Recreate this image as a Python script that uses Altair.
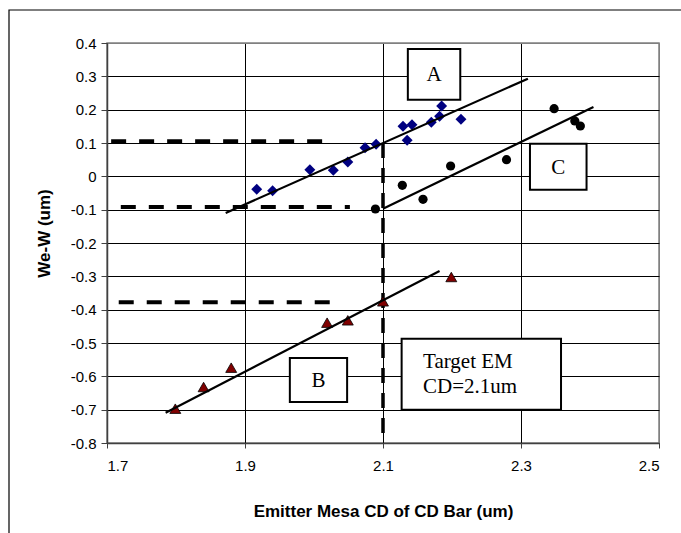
import altair as alt
import pandas as pd

# ---- data ----
a_x = [1.917, 1.940, 1.994, 2.028, 2.049, 2.074, 2.090, 2.129, 2.135, 2.142, 2.170, 2.182, 2.185, 2.213]
a_y = [-0.039, -0.043, 0.020, 0.018, 0.043, 0.086, 0.096, 0.150, 0.108, 0.155, 0.162, 0.180, 0.211, 0.171]

c_x = [2.089, 2.128, 2.158, 2.198, 2.279, 2.348, 2.378, 2.386]
c_y = [-0.098, -0.027, -0.069, 0.031, 0.050, 0.203, 0.166, 0.151]

b_x = [1.799, 1.840, 1.880, 2.019, 2.049, 2.100, 2.199]
b_y = [-0.697, -0.632, -0.574, -0.439, -0.432, -0.375, -0.302]

# trend lines: start/end
trend_name = ["A", "C", "B"]
trend_x1 = [1.872, 2.100, 1.785]
trend_y1 = [-0.110, -0.097, -0.709]
trend_x2 = [2.310, 2.405, 2.182]
trend_y2 = [0.293, 0.208, -0.284]

# horizontal dashed reference lines
hdash_y = [0.105, -0.092, -0.378]
hdash_x1 = [1.706, 1.720, 1.717]
hdash_x2 = [2.012, 2.052, 2.024]

# vertical dashed target line
vdash_x = [2.1]
vdash_y1 = [0.1]
vdash_y2 = [-0.8]

# label boxes
box_label = ["A", "C", "B"]
box_x1 = [2.136, 2.313, 1.965]
box_x2 = [2.212, 2.395, 2.048]
box_y1 = [0.382, 0.098, -0.545]
box_y2 = [0.230, -0.040, -0.677]

target_x1 = [2.127]
target_x2 = [2.358]
target_y1 = [-0.487]
target_y2 = [-0.700]
target_lines = ["Target EM", "CD=2.1um"]
target_text_x = [2.158, 2.158]
target_text_y = [-0.556, -0.631]

x_ticks = [1.7, 1.9, 2.1, 2.3, 2.5]
y_ticks = [-0.8, -0.7, -0.6, -0.5, -0.4, -0.3, -0.2, -0.1, 0.0, 0.1, 0.2, 0.3, 0.4]

x_title = "Emitter Mesa CD of CD Bar (um)"
y_title = "We-W (um)"

# ---- tables ----
pts = pd.concat([
    pd.DataFrame({"x": a_x, "y": a_y, "s": "A"}),
    pd.DataFrame({"x": c_x, "y": c_y, "s": "C"}),
    pd.DataFrame({"x": b_x, "y": b_y, "s": "B"}),
])
trend = pd.DataFrame({"n": trend_name, "x": trend_x1, "y": trend_y1, "x2": trend_x2, "y2": trend_y2})
hdash = pd.DataFrame({"y": hdash_y, "x": hdash_x1, "x2": hdash_x2})
vdash = pd.DataFrame({"x": vdash_x, "y": vdash_y1, "y2": vdash_y2})
boxes = pd.DataFrame({"t": box_label, "x": box_x1, "x2": box_x2, "y": box_y1, "y2": box_y2})
boxes["cx"] = (boxes["x"] + boxes["x2"]) / 2
boxes["cy"] = (boxes["y"] + boxes["y2"]) / 2
tbox = pd.DataFrame({"x": target_x1, "x2": target_x2, "y": target_y1, "y2": target_y2})
ttext = pd.DataFrame({"t": target_lines, "x": target_text_x, "y": target_text_y})

xs = alt.Scale(domain=[1.7, 2.5], nice=False, zero=False)
ys = alt.Scale(domain=[-0.8, 0.4], nice=False, zero=False)

FONT = "Liberation Sans"
SERIF = "Liberation Serif"

xaxis = alt.Axis(
    values=x_ticks, format=".1f", title=x_title,
    grid=True, gridColor=alt.condition("datum.value > 2.45", alt.value("#808080"), alt.value("#000000")),
    gridWidth=1, domainColor="#404040", domainWidth=1.5,
    tickColor="#404040", tickSize=5, labelFont=FONT, labelFontSize=15, labelColor="#000",
    labelPadding=10, titleFont=FONT, titleFontSize=17, titleFontWeight="bold", titleColor="#000",
    titleX=276, titleY=68, titleBaseline="middle", titleAlign="center",
)
yaxis = alt.Axis(
    values=y_ticks, title=y_title,
    labelExpr="abs(datum.value) < 1e-9 ? '0' : (datum.value < 0 ? '-' + format(-datum.value, '.1f') : format(datum.value, '.1f'))",
    grid=True, gridColor=alt.condition("datum.value > 0.35", alt.value("#808080"), alt.value("#000000")),
    gridWidth=1, domainColor="#404040", domainWidth=1.5,
    tickColor="#404040", tickSize=6, labelFont=FONT, labelFontSize=15, labelColor="#000",
    labelPadding=5, titleFont=FONT, titleFontSize=17, titleFontWeight="bold", titleColor="#000",
    titleX=-63, titleY=190, titleBaseline="middle", titleAlign="center", titleAngle=270,
)


def X(f):
    return alt.X(f, scale=xs, axis=xaxis)


def Y(f):
    return alt.Y(f, scale=ys, axis=yaxis)


# outer frame (decoration, no fill)
frame = alt.Chart(pd.DataFrame({"k": [0]})).mark_rect(
    fill="white", fillOpacity=0, stroke="#000", strokeWidth=1.2
).encode(x=alt.value(-98), x2=alt.value(700), y=alt.value(-33), y2=alt.value(700))

dash_h = alt.Chart(hdash).mark_rule(color="#000", strokeWidth=4, strokeDash=[15, 13]).encode(
    x=X("x:Q"), x2="x2:Q", y=Y("y:Q"),
)
dash_v = alt.Chart(vdash).mark_rule(color="#000", strokeWidth=3.5, strokeDash=[15, 10]).encode(
    x=X("x:Q"), y=Y("y:Q"), y2="y2:Q",
)

pA = alt.Chart(pts[pts.s == "A"]).mark_point(shape="diamond", filled=True, color="#000080", size=120, opacity=1).encode(
    x=X("x:Q"), y=Y("y:Q"))
pC = alt.Chart(pts[pts.s == "C"]).mark_point(shape="circle", filled=True, color="#000000", size=85, opacity=1).encode(
    x=X("x:Q"), y=Y("y:Q"))
pB = alt.Chart(pts[pts.s == "B"]).mark_point(shape="triangle-up", filled=True, fill="#800000", stroke="#000", strokeWidth=0.8, size=120, opacity=1).encode(
    x=X("x:Q"), y=Y("y:Q"))

lines = alt.Chart(trend).mark_rule(color="#000", strokeWidth=2.2).encode(
    x=X("x:Q"), x2="x2:Q", y=Y("y:Q"), y2="y2:Q",
)

bx = alt.Chart(boxes).mark_rect(fill="white", stroke="#000", strokeWidth=2).encode(
    x=X("x:Q"), x2="x2:Q", y=Y("y:Q"), y2="y2:Q",
)
bt = alt.Chart(boxes).mark_text(font=SERIF, fontSize=21, color="#000", align="center", baseline="middle", dy=1).encode(
    x=X("cx:Q"), y=Y("cy:Q"), text="t:N")

tb = alt.Chart(tbox).mark_rect(fill="white", stroke="#000", strokeWidth=2).encode(
    x=X("x:Q"), x2="x2:Q", y=Y("y:Q"), y2="y2:Q",
)
tt = alt.Chart(ttext).mark_text(font=SERIF, fontSize=21, color="#000", align="left", baseline="middle").encode(
    x=X("x:Q"), y=Y("y:Q"), text="t:N")

chart = alt.layer(
    frame, dash_h, dash_v, pA, pC, pB, lines, bx, bt, tb, tt
).properties(
    width=552, height=400,
    autosize=alt.AutoSizeParams(type="none"),
    padding={"left": 107, "top": 43, "right": 22, "bottom": 90},
    background="white",
).configure_view(stroke="#808080", strokeWidth=1.5)

chart.save("out.html", embed_options={"renderer": "svg", "actions": False})
